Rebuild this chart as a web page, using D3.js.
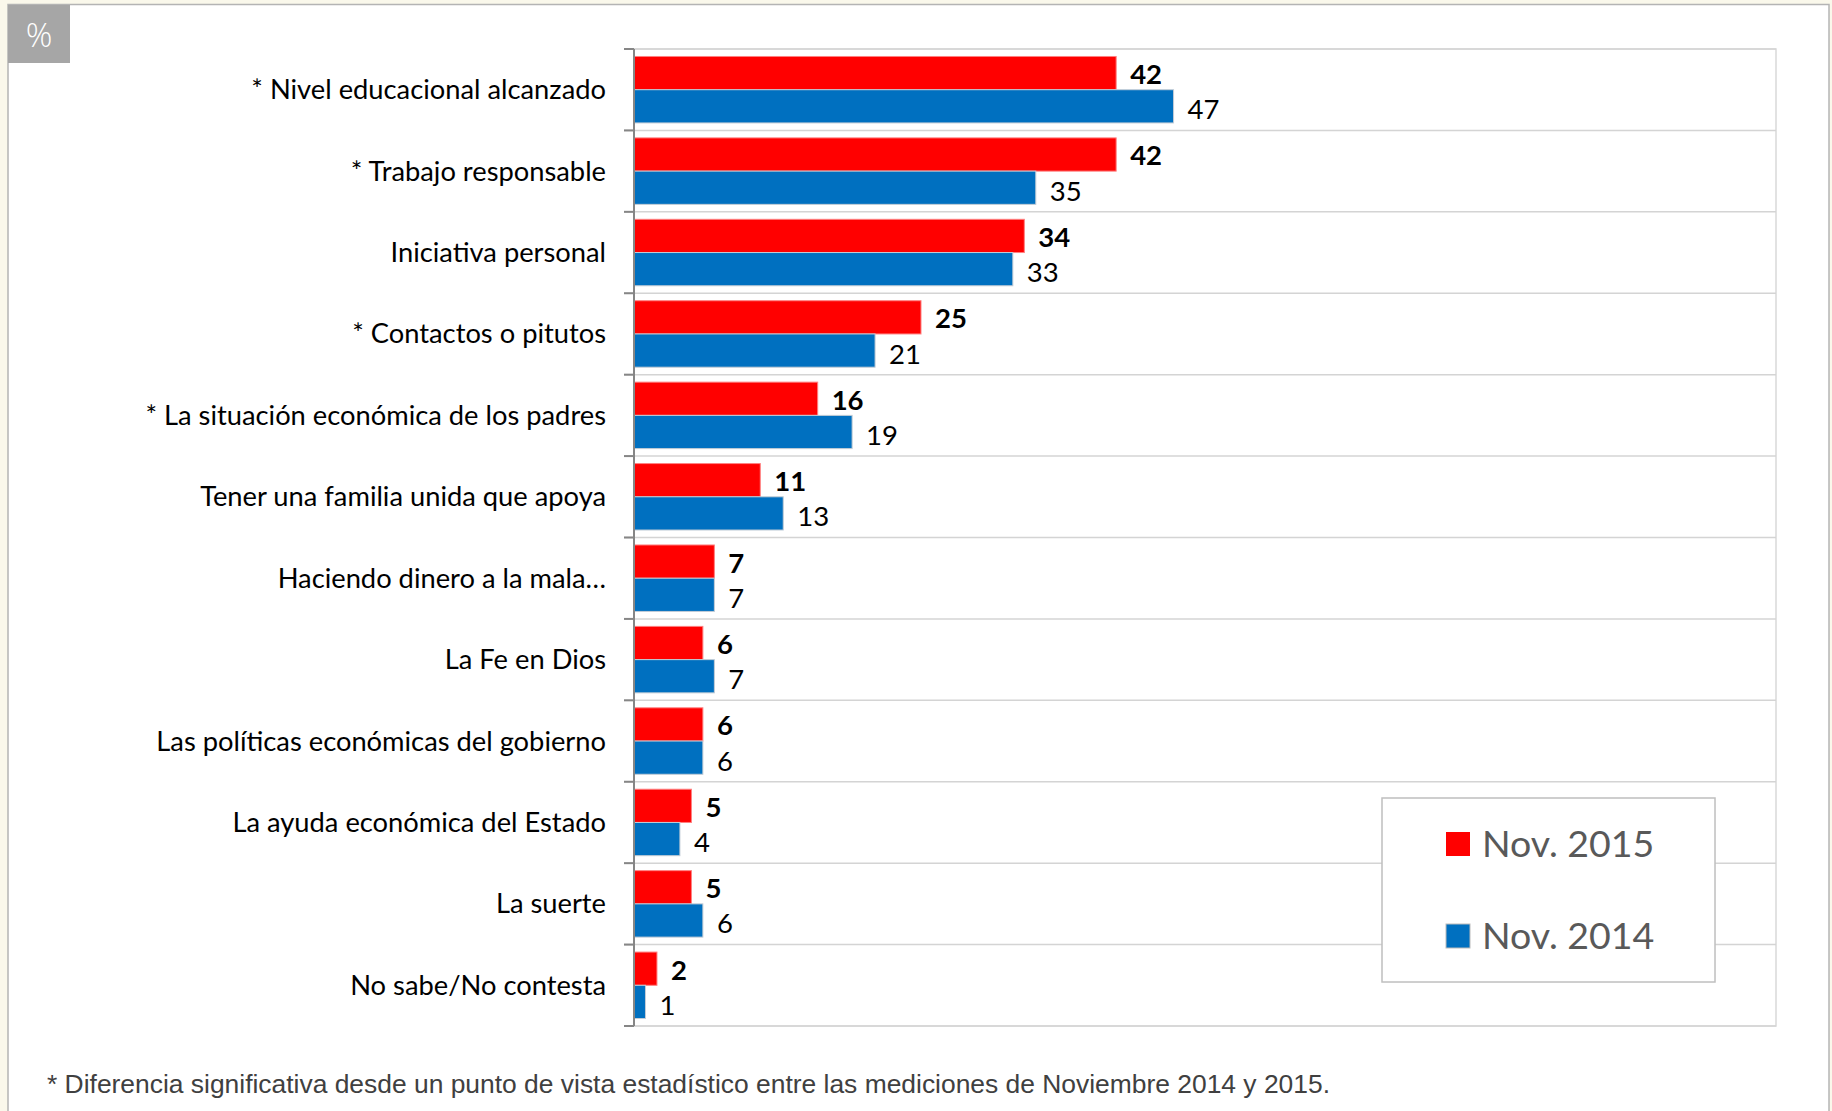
<!DOCTYPE html>
<html>
<head>
<meta charset="utf-8">
<script src="https://cdn.jsdelivr.net/npm/d3@7"></script>
<style>
  html, body { margin: 0; padding: 0; background: #faf8eb; }
  svg { display: block; }
</style>
</head>
<body>
<svg id="chart" width="1832" height="1111"></svg>
<script>
var categories = [
  "* Nivel educacional alcanzado",
  "* Trabajo responsable",
  "Iniciativa personal",
  "* Contactos o pitutos",
  "* La situación económica de los padres",
  "Tener una familia unida que apoya",
  "Haciendo dinero a la mala…",
  "La Fe en Dios",
  "Las políticas económicas del gobierno",
  "La ayuda económica del Estado",
  "La suerte",
  "No sabe/No contesta"
];
var seriesNames = ["Nov. 2015", "Nov. 2014"];
var nov2015 = [42, 42, 34, 25, 16, 11, 7, 6, 6, 5, 5, 2];
var nov2014 = [47, 35, 33, 21, 19, 13, 7, 7, 6, 4, 6, 1];
var colors = ["#ff0000", "#0070c0"];
var footnote = "* Diferencia significativa desde un punto de vista estadístico entre las mediciones de Noviembre 2014 y 2015.";

var svg = d3.select('#chart');

var plot = { left: 634, right: 1776, top: 49, bottom: 1026 };

// panel
svg.append('rect')
    .attr('x', 8).attr('y', 4.5)
    .attr('width', 1821).attr('height', 1120)
    .attr('fill', '#fff')
    .attr('stroke', '#b4b4b4')
    .attr('stroke-width', 1.5);

// % badge
svg.append('rect')
    .attr('x', 8).attr('y', 5)
    .attr('width', 62).attr('height', 58)
    .attr('fill', '#a6a6a6');
svg.append('text')
    .attr('x', 39).attr('y', 47)
    .attr('text-anchor', 'middle')
    .attr('fill', '#fff')
    .style('font-family', 'Open Sans')
    .style('font-size', '33px')
    .style('font-weight', 300)
    .text('%');

var x = d3.scaleLinear().domain([0, 100]).range([plot.left, plot.left + 1148]);
var y0 = d3.scaleBand().domain(categories).range([plot.top, plot.bottom]);
var y1 = d3.scaleBand().domain(seriesNames)
    .range([0, y0.bandwidth()])
    .paddingInner(0)
    .paddingOuter(0.225);

// plot border + gridlines
svg.append('rect')
    .attr('x', plot.left).attr('y', plot.top)
    .attr('width', plot.right - plot.left)
    .attr('height', plot.bottom - plot.top)
    .attr('fill', 'none')
    .attr('stroke', '#d9d9d9')
    .attr('stroke-width', 1.5);

var bounds = categories.map(function(c) { return y0(c); }).concat([plot.bottom]);

svg.append('g').selectAll('line')
    .data(bounds)
  .enter().append('line')
    .attr('x1', plot.left - 10)
    .attr('x2', plot.right)
    .attr('y1', function(d) { return d; })
    .attr('y2', function(d) { return d; })
    .attr('stroke', '#d4d4d4')
    .attr('stroke-width', 1.5);

// ticks on the axis
svg.append('g').selectAll('line')
    .data(bounds)
  .enter().append('line')
    .attr('x1', plot.left - 10)
    .attr('x2', plot.left)
    .attr('y1', function(d) { return d; })
    .attr('y2', function(d) { return d; })
    .attr('stroke', '#868686')
    .attr('stroke-width', 2);

var rows = categories.map(function(c, i) {
  return { cat: c, values: [nov2015[i], nov2014[i]] };
});

var groups = svg.append('g').selectAll('g')
    .data(rows)
  .enter().append('g')
    .attr('transform', function(d) { return 'translate(0,' + y0(d.cat) + ')'; });

groups.selectAll('rect')
    .data(function(d) {
      return d.values.map(function(v, j) { return { s: seriesNames[j], v: v, j: j }; });
    })
  .enter().append('rect')
    .attr('x', x(0))
    .attr('y', function(d) { return y1(d.s); })
    .attr('width', function(d) { return x(d.v) - x(0); })
    .attr('height', y1.bandwidth())
    .attr('fill', function(d) { return colors[d.j]; })
    .attr('stroke', function(d) { return d.j == 0 ? '#ff8080' : '#c4cdd6'; })
    .attr('stroke-width', 1);

groups.selectAll('text.val')
    .data(function(d) {
      return d.values.map(function(v, j) { return { s: seriesNames[j], v: v, j: j }; });
    })
  .enter().append('text')
    .attr('class', 'val')
    .attr('x', function(d) { return x(d.v) + 14; })
    .attr('y', function(d) { return y1(d.s) + y1.bandwidth() / 2 + (d.j == 0 ? 11 : 13); })
    .attr('fill', '#000')
    .style('font-family', 'Lato')
    .style('font-size', '27.5px')
    .style('font-weight', function(d) { return d.j == 0 ? 'bold' : 'normal'; })
    .text(function(d) { return d.v; });

// category labels
svg.append('g').selectAll('text')
    .data(categories)
  .enter().append('text')
    .attr('x', plot.left - 28)
    .attr('y', function(d) { return y0(d) + y0.bandwidth() / 2 + 9.5; })
    .attr('text-anchor', 'end')
    .attr('fill', '#000')
    .style('font-family', 'Lato')
    .style('font-size', '27.3px')
    .text(function(d) { return d; });

// vertical axis line
svg.append('line')
    .attr('x1', plot.left).attr('x2', plot.left)
    .attr('y1', plot.top).attr('y2', plot.bottom)
    .attr('stroke', '#868686')
    .attr('stroke-width', 2);

// legend
var legend = svg.append('g').attr('transform', 'translate(1382,798)');
legend.append('rect')
    .attr('width', 333).attr('height', 184)
    .attr('fill', '#fff')
    .attr('stroke', '#bfbfbf')
    .attr('stroke-width', 1.5);

var items = legend.selectAll('g')
    .data(seriesNames)
  .enter().append('g')
    .attr('transform', function(d, i) { return 'translate(64,' + (34 + i * 92) + ')'; });

items.append('rect')
    .attr('width', 24).attr('height', 24)
    .attr('fill', function(d, i) { return colors[i]; })
    .attr('stroke', function(d, i) { return i == 0 ? 'none' : '#bbb'; });

items.append('text')
    .attr('x', 36).attr('y', 25)
    .attr('fill', '#595959')
    .style('font-family', 'Lato')
    .style('font-size', '37.5px')
    .text(function(d) { return d; });

// footnote
svg.append('text')
    .attr('x', 47).attr('y', 1093)
    .attr('fill', '#404040')
    .attr('textLength', 1283)
    .attr('lengthAdjust', 'spacingAndGlyphs')
    .style('font-family', 'Liberation Sans')
    .style('font-size', '25px')
    .text(footnote);
</script>
</body>
</html>
